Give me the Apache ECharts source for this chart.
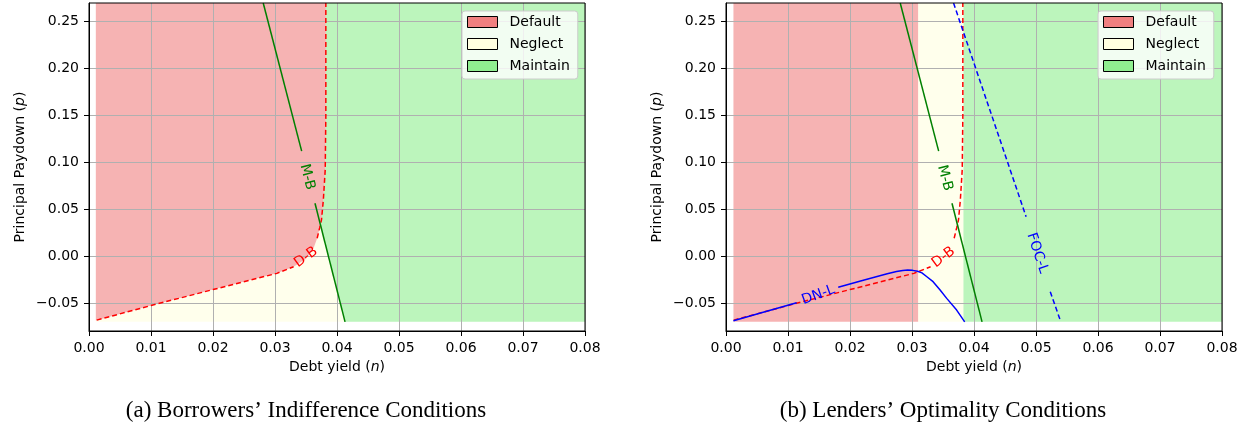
<!DOCTYPE html>
<html><head><meta charset="utf-8">
<script src="https://cdn.jsdelivr.net/npm/echarts@6/dist/echarts.min.js"></script>
<style>html,body{margin:0;padding:0;background:#fff}#c{width:1250px;height:432px}</style>
</head><body><div id="c"></div>
<script>
// ---------- data ----------
const xTickValues = [0.00, 0.01, 0.02, 0.03, 0.04, 0.05, 0.06, 0.07, 0.08];
const yTickValues = [-0.05, 0.00, 0.05, 0.10, 0.15, 0.20, 0.25];
const regionNames = ['Default', 'Neglect', 'Maintain'];

// D-B curve (borrower default boundary), split where its label sits
const dbSeg1 = [[0.00124,-0.0684],[0.010,-0.0528],[0.020,-0.0358],[0.0303,-0.0185],[0.033,-0.0114]];
const dbSeg2 = [[0.0368,0.019],[0.0372,0.030],[0.0375,0.0385],[0.0378,0.060],[0.0381,0.092],[0.0382,0.15],[0.0382,0.27]];
// D-B boundary below / above its crossing with M-B
const dbLower = [[0.00124,-0.0684],[0.010,-0.0528],[0.020,-0.0358],[0.0303,-0.0185],[0.033,-0.0114],[0.035,-0.003],[0.0362,0.008],[0.0368,0.019],[0.0372,0.030],[0.0373,0.033]];
const dbUpper = [[0.0373,0.033],[0.0375,0.0385],[0.0378,0.060],[0.0381,0.092],[0.0382,0.15],[0.0382,0.27]];
// M-B line (maintain boundary)
const mbSeg1 = [[0.0281,0.27],[0.0343,0.112]];
const mbSeg2 = [[0.03645,0.0563],[0.0413,-0.0702]];
// DN-L curve (lender)
const dnlSeg1 = [[0.0012,-0.0690],[0.0060,-0.0600],[0.0114,-0.0499]];
const dnlSeg2 = [[0.0181,-0.0334],[0.0220,-0.0262],[0.0260,-0.0190],[0.0275,-0.0166],[0.0285,-0.0154],[0.0293,-0.0150],[0.0301,-0.0153],[0.0309,-0.0162],[0.0316,-0.0180],[0.0324,-0.0221],[0.0334,-0.0274],[0.0345,-0.0360],[0.0356,-0.0452],[0.0372,-0.0577],[0.0385,-0.0702]];
// FOC-L line (lender)
const focSeg1 = [[0.0367,0.27],[0.0484,0.042]];
const focSeg2 = [[0.0523,-0.0381],[0.0540,-0.0702]];

// region polygons, left panel
const leftDefault  = [[0.0011,0.27],[0.0011,-0.0686]].concat(dbLower, dbUpper.slice(1));
const leftNeglect  = [[0.0011,-0.07],[0.04128,-0.07]].concat(dbLower.slice().reverse(), [[0.0011,-0.0686]]);
const leftMaintain = [[0.04128,-0.07],[0.08,-0.07],[0.08,0.27]].concat(dbUpper.slice().reverse());
// region polygons, right panel
const rightDefault  = [[0.0012,-0.07],[0.031,-0.07],[0.031,0.27],[0.0012,0.27]];
const rightNeglect  = [[0.031,-0.07],[0.0383,-0.07],[0.0383,0.27],[0.031,0.27]];
const rightMaintain = [[0.0383,-0.07],[0.08,-0.07],[0.08,0.27],[0.0383,0.27]];

// inline curve labels: [x, y, text, angle in degrees]
const leftLabels  = [[0.0352,0.0844,'M-B',-75.6],[0.0350,-0.0014,'D-B',36]];
const rightLabels = [[0.0353,0.0833,'M-B',-75.6],[0.0351,-0.0014,'D-B',37],[0.0149,-0.0417,'DN-L',20],[0.0502,0.003,'FOC-L',-71.4]];

const captions = ['(a) Borrowers\u2019 Indifference Conditions', '(b) Lenders\u2019 Optimality Conditions'];

// ---------- styles ----------
const regionColors = {Default:'#f08080', Neglect:'#ffffe0', Maintain:'#90ee90'};
const FONT = 'DejaVu Sans';
const grids = [
  {left:89, top:3, width:496, height:328, show:true, borderColor:'#000', borderWidth:1, z:10},
  {left:726, top:3, width:496, height:328, show:true, borderColor:'#000', borderWidth:1, z:10}
];
function fmt(v){ return (Math.abs(v)<1e-9?0:v).toFixed(2).replace('-', '\u2212'); }

function xAxis(i){
  return {type:'value', gridIndex:i, min:0, max:0.08, interval:0.01, z:3,
    name:'Debt yield ({i|n})', nameLocation:'middle', nameGap:27,
    nameTextStyle:{fontFamily:FONT, fontSize:14, color:'#000', rich:{i:{fontFamily:FONT, fontSize:14, fontStyle:'italic', color:'#000'}}},
    axisLine:{show:true, onZero:false, lineStyle:{color:'#000', width:1}},
    axisTick:{show:true, length:5, lineStyle:{color:'#000', width:1}},
    axisLabel:{fontFamily:FONT, fontSize:14, color:'#000', margin:10, formatter:fmt, showMinLabel:true, showMaxLabel:true},
    splitLine:{show:true, lineStyle:{color:'#b0b0b0', width:1}}
  };
}
function yAxis(i){
  return {type:'value', gridIndex:i, min:-0.08, max:0.27, z:3,
    name:'Principal Paydown ({i|p})', nameLocation:'middle', nameGap:62, nameRotate:90,
    nameTextStyle:{fontFamily:FONT, fontSize:14, color:'#000', rich:{i:{fontFamily:FONT, fontSize:14, fontStyle:'italic', color:'#000'}}},
    axisLine:{show:true, onZero:false, lineStyle:{color:'#000', width:1}},
    axisTick:{show:true, length:5, customValues:yTickValues, lineStyle:{color:'#000', width:1}},
    axisLabel:{fontFamily:FONT, fontSize:14, color:'#000', margin:10, customValues:yTickValues, formatter:fmt},
    splitLine:{show:true, lineStyle:{color:'#b0b0b0', width:1}}
  };
}

function regionSeries(name, poly, gi){
  return {type:'custom', name:name, xAxisIndex:gi, yAxisIndex:gi, z:1, clip:true, silent:true,
    itemStyle:{color:regionColors[name], opacity:0.6},
    data:[[poly[0][0], poly[0][1]]],
    renderItem:function(params, api){
      return {type:'polygon', shape:{points:poly.map(p=>api.coord(p))},
        style:{fill:regionColors[name], opacity:0.6, stroke:null}};
    }};
}
function lineSeries(data, gi, color, dashed){
  return {type:'line', xAxisIndex:gi, yAxisIndex:gi, data:data, showSymbol:false, symbol:'none', z:5, silent:true,
    lineStyle:{color:color, width:1.5, type: dashed ? [5,3] : 'solid'}, clip:true};
}
function labelSeries(labels, gi){
  const colorOf = {'M-B':'#008000','D-B':'#ff0000','DN-L':'#0000ff','FOC-L':'#0000ff'};
  return {type:'custom', xAxisIndex:gi, yAxisIndex:gi, z:6, silent:true,
    data:labels.map(l=>[l[0], l[1]]),
    renderItem:function(params, api){
      const l = labels[params.dataIndex];
      const p = api.coord([l[0], l[1]]);
      return {type:'text', x:p[0], y:p[1], rotation:l[3]*Math.PI/180,
        style:{text:l[2], fill:colorOf[l[2]], fontFamily:FONT, fontSize:14, align:'center', verticalAlign:'middle', textAlign:'center', textVerticalAlign:'middle'}};
    }};
}

const legendData = regionNames.map(n=>({name:n, icon:'rect', itemStyle:{color:regionColors[n], opacity:1, borderColor:'#000', borderWidth:1}}));
function legend(left){
  return {left:left, top:11, orient:'vertical', data:legendData, itemWidth:30, itemHeight:11, itemGap:8,
    padding:[4,8,6,5], backgroundColor:'rgba(255,255,255,0.8)', borderColor:'#cccccc', borderWidth:1, borderRadius:3,
    selectedMode:false, z:20,
    textStyle:{fontFamily:FONT, fontSize:14, color:'#000', lineHeight:14, padding:[0,0,0,7]}};
}

const series = [
  regionSeries('Maintain', leftMaintain, 0),
  regionSeries('Neglect', leftNeglect, 0),
  regionSeries('Default', leftDefault, 0),
  lineSeries(dbSeg1, 0, '#ff0000', true),
  lineSeries(dbSeg2, 0, '#ff0000', true),
  lineSeries(mbSeg1, 0, '#008000', false),
  lineSeries(mbSeg2, 0, '#008000', false),
  labelSeries(leftLabels, 0),

  regionSeries('Default', rightDefault, 1),
  regionSeries('Neglect', rightNeglect, 1),
  regionSeries('Maintain', rightMaintain, 1),
  lineSeries(dbSeg1, 1, '#ff0000', true),
  lineSeries(dbSeg2, 1, '#ff0000', true),
  lineSeries(mbSeg1, 1, '#008000', false),
  lineSeries(mbSeg2, 1, '#008000', false),
  lineSeries(dnlSeg1, 1, '#0000ff', false),
  lineSeries(dnlSeg2, 1, '#0000ff', false),
  lineSeries(focSeg1, 1, '#0000ff', true),
  lineSeries(focSeg2, 1, '#0000ff', true),
  labelSeries(rightLabels, 1)
];

const chart = echarts.init(document.getElementById('c'), null, {renderer:'canvas'});
chart.setOption({
  animation:false,
  backgroundColor:'#ffffff',
  grid:grids,
  xAxis:[xAxis(0), xAxis(1)],
  yAxis:[yAxis(0), yAxis(1)],
  legend:[legend(462), legend(1098)],
  series:series,
  graphic:[
    {type:'text', x:306, y:411, style:{text:captions[0], fontFamily:'Liberation Serif', fontSize:23, fill:'#000', align:'center', verticalAlign:'middle'}},
    {type:'text', x:943, y:411, style:{text:captions[1], fontFamily:'Liberation Serif', fontSize:23, fill:'#000', align:'center', verticalAlign:'middle'}}
  ]
});
</script></body></html>
